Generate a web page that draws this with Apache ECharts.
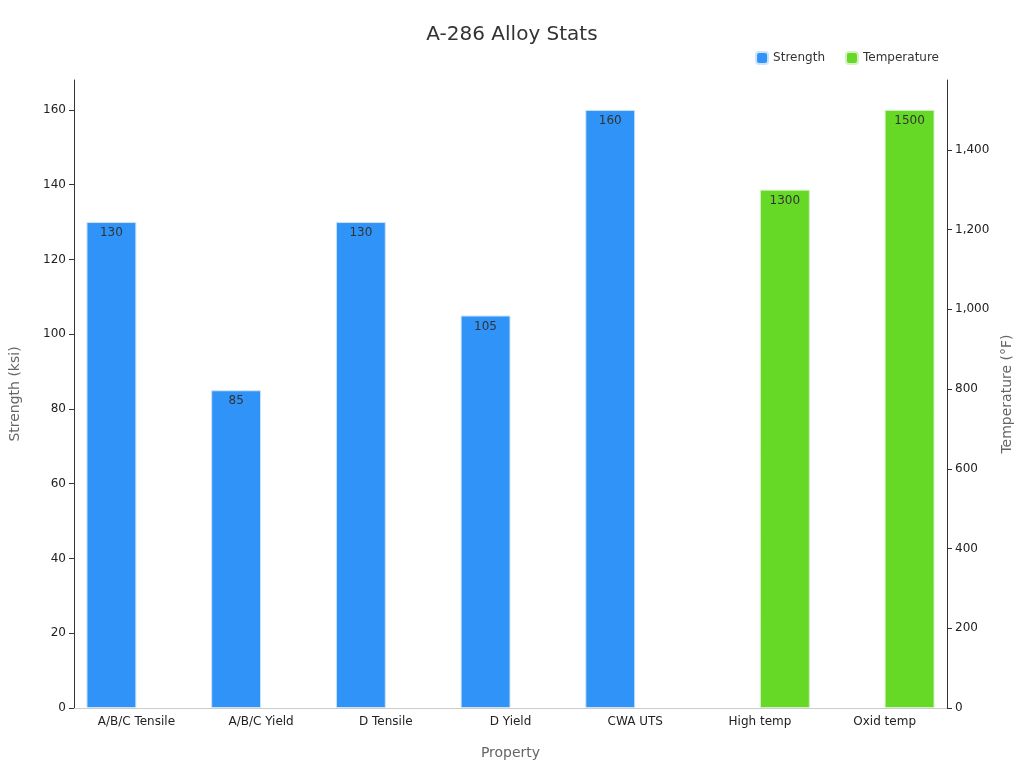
<!DOCTYPE html>
<html><head><meta charset="utf-8">
<script src="https://cdn.jsdelivr.net/npm/echarts@6/dist/echarts.min.js"></script>
<style>html,body{margin:0;padding:0}#c{width:1024px;height:768px}</style>
</head><body><div id="c"></div>
<script>
const categories = ['A/B/C Tensile','A/B/C Yield','D Tensile','D Yield','CWA UTS','High temp','Oxid temp'];
const strength = [130, 85, 130, 105, 160, null, null];
const temperature = [null, null, null, null, null, 1300, 1500];
const chart = echarts.init(document.getElementById('c'));
const lbl = {show:true, position:'insideTop', color:'#333', fontSize:12, fontFamily:'DejaVu Sans'};
chart.setOption({
  title:{text:'A-286 Alloy Stats', left:'center', top:20, textStyle:{fontSize:20, fontWeight:'normal', color:'#333', fontFamily:'DejaVu Sans'}},
  legend:{right:80, top:46, itemWidth:12, itemHeight:12, itemGap:20, textStyle:{fontSize:12, color:'#333', fontFamily:'DejaVu Sans'}, data:['Strength','Temperature']},
  grid:{left:68, right:77, top:80, bottom:60},
  xAxis:{type:'category', data:categories, name:'Property', nameLocation:'middle', nameGap:38,
    nameTextStyle:{fontSize:14, color:'#666', fontFamily:'DejaVu Sans'},
    axisLine:{lineStyle:{color:'#ccc'}}, axisTick:{show:false},
    axisLabel:{color:'#222', fontSize:12, fontFamily:'DejaVu Sans'}},
  yAxis:[
    {type:'value', min:0, max:168, interval:20, name:'Strength (ksi)', nameLocation:'middle', nameGap:52,
      nameTextStyle:{fontSize:14, color:'#666', fontFamily:'DejaVu Sans'},
      axisLine:{show:true, lineStyle:{color:'#333'}}, axisTick:{show:true}, splitLine:{show:false},
      axisLabel:{color:'#222', fontSize:12, fontFamily:'DejaVu Sans', showMaxLabel:false}},
    {type:'value', min:0, max:1575, interval:200, name:'Temperature (°F)', nameLocation:'middle', nameGap:50,
      nameTextStyle:{fontSize:14, color:'#666', fontFamily:'DejaVu Sans'},
      axisLine:{show:true, lineStyle:{color:'#333'}}, axisTick:{show:true}, splitLine:{show:false},
      axisLabel:{color:'#222', fontSize:12, fontFamily:'DejaVu Sans', showMaxLabel:false}}
  ],
  series:[
    {name:'Strength', type:'bar', data:strength, yAxisIndex:0, barWidth:'40%', barGap:'0%',
      itemStyle:{color:'#2f93f7', borderColor:'#cfe3f7', borderWidth:1}, label:lbl},
    {name:'Temperature', type:'bar', data:temperature, yAxisIndex:1, barWidth:'40%', barGap:'0%',
      itemStyle:{color:'#66d926', borderColor:'#d4f0c4', borderWidth:1}, label:lbl}
  ]
});
</script></body></html>
